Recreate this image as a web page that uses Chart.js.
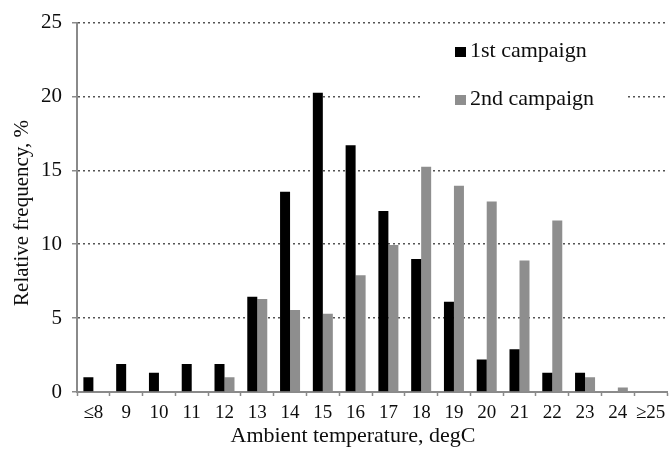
<!DOCTYPE html>
<html>
<head>
<meta charset="utf-8">
<script src="https://cdn.jsdelivr.net/npm/chart.js@4/dist/chart.umd.min.js"></script>
<style>
  html, body { margin: 0; padding: 0; background: #ffffff; }
  #wrap { width: 672px; height: 467px; }
</style>
</head>
<body>
<div id="wrap"><canvas id="chart" width="672" height="467"></canvas></div>
<script>
// Temperature bins (degC) and relative frequency (%) for each campaign
const temperatureBins = ['≤8', '9', '10', '11', '12', '13', '14', '15', '16', '17', '18', '19', '20', '21', '22', '23', '24', '≥25'];
const firstCampaign  = [1.0, 1.9, 1.3, 1.9, 1.9, 6.45, 13.55, 20.25, 16.7, 12.25, 9.0, 6.1, 2.2, 2.9, 1.3, 1.3, 0, 0];
const secondCampaign = [0, 0, 0, 0, 1.0, 6.3, 5.55, 5.3, 7.9, 9.95, 15.25, 13.95, 12.9, 8.9, 11.6, 1.0, 0.3, 0];
const seriesNames = ['1st campaign', '2nd campaign'];
const yTicks = [0, 5, 10, 15, 20, 25];
const xTitle = 'Ambient temperature, degC';
const yTitle = 'Relative frequency, %';

const SERIF = '"Liberation Serif", "DejaVu Serif", serif';
const TEXT = '#0d0d0d';
const AXIS = '#8a8a8a';

// Legend box sitting inside the plot, plus both axis titles
const overlay = {
  id: 'overlay',
  afterDraw(chart) {
    const ctx = chart.ctx;
    ctx.save();
    ctx.fillStyle = '#ffffff';
    ctx.fillRect(420, 30, 207, 92);
    ctx.font = '22px ' + SERIF;
    ctx.textAlign = 'left';
    ctx.textBaseline = 'alphabetic';
    const baselines = [57, 105];
    chart.data.datasets.forEach((ds, i) => {
      const b = baselines[i];
      ctx.fillStyle = ds.backgroundColor;
      ctx.fillRect(455, b - 10, 11, 10);
      ctx.fillStyle = TEXT;
      ctx.fillText(ds.label, 470, b);
    });

    ctx.fillStyle = TEXT;
    ctx.textAlign = 'center';
    ctx.font = '22px ' + SERIF;
    ctx.fillText(xTitle, 353, 442);

    ctx.font = '21px ' + SERIF;
    ctx.translate(28, 213);
    ctx.rotate(-Math.PI / 2);
    ctx.fillText(yTitle, 0, 0);
    ctx.restore();
  }
};

new Chart(document.getElementById('chart'), {
  type: 'bar',
  data: {
    labels: temperatureBins,
    datasets: [
      { label: seriesNames[0], data: firstCampaign, backgroundColor: '#000000', borderWidth: 0 },
      { label: seriesNames[1], data: secondCampaign, backgroundColor: '#8e8e8e', borderWidth: 0 }
    ]
  },
  options: {
    responsive: false,
    animation: false,
    devicePixelRatio: 1,
    datasets: { bar: { categoryPercentage: 0.61, barPercentage: 1.0 } },
    layout: { padding: { top: 19, right: 5, bottom: 0, left: 0 } },
    plugins: {
      legend: { display: false },
      tooltip: { enabled: false }
    },
    scales: {
      x: {
        grid: {
          offset: true,
          drawOnChartArea: false,
          drawTicks: true,
          tickLength: 4,
          tickColor: AXIS,
          tickWidth: 1.5
        },
        border: { color: AXIS, width: 2 },
        ticks: {
          color: TEXT,
          font: { family: SERIF, size: 19 },
          padding: 6,
          maxRotation: 0,
          autoSkip: false
        },
        afterFit(scale) { scale.height = 75; }
      },
      y: {
        min: 0,
        max: 25,
        afterBuildTicks(scale) { scale.ticks = yTicks.map(v => ({ value: v })); },
        grid: {
          color: ctx => (ctx.tick && ctx.tick.value === 0) ? 'rgba(0,0,0,0)' : '#555555',
          lineWidth: 1.5,
          drawTicks: true,
          tickLength: 5,
          tickColor: AXIS,
          tickWidth: 1.5,
          tickBorderDash: []
        },
        border: { color: AXIS, width: 2, dash: [2, 3] },
        ticks: {
          color: TEXT,
          font: { family: SERIF, size: 21 },
          padding: 10
        },
        afterFit(scale) { scale.width = 77; }
      }
    }
  },
  plugins: [overlay]
});
</script>
</body>
</html>
